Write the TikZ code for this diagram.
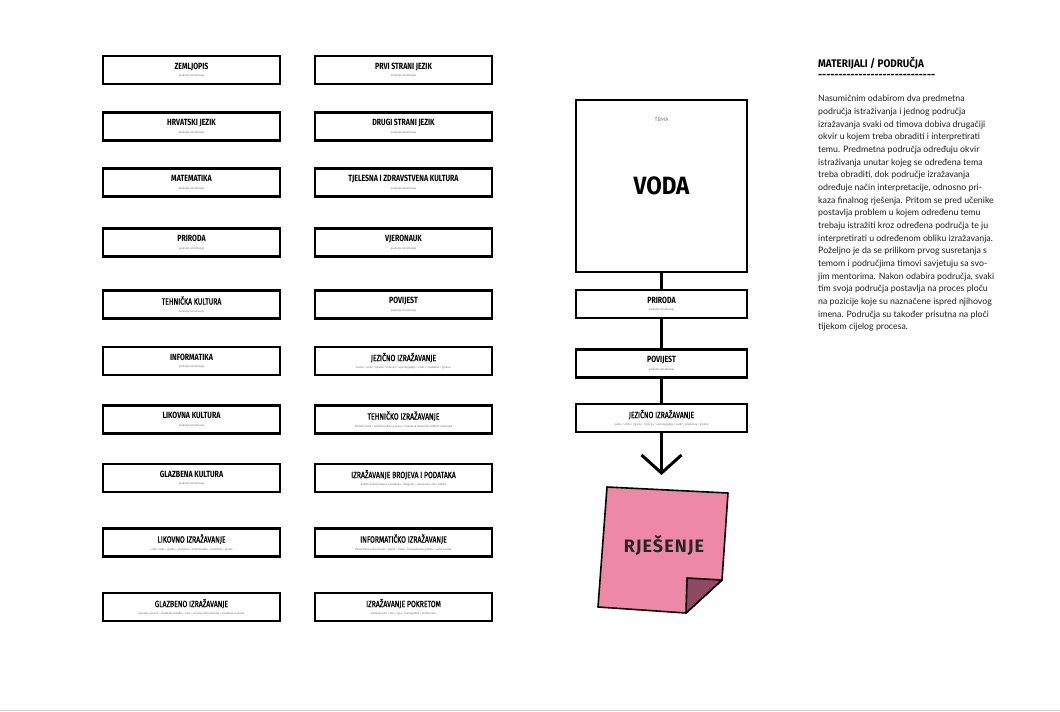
\documentclass[tikz,border=0pt]{standalone}
\usepackage{fontspec}
\usetikzlibrary{arrows.meta}
\newfontfamily\ttlfont[FakeStretch=0.78]{Fira Sans}
\newfontfamily\medfont[FakeStretch=0.76, FakeBold=1.2]{Fira Sans}
\newfontfamily\headfont[FakeStretch=0.9]{Fira Sans}
\newfontfamily\bigfont[FakeStretch=0.9]{Fira Sans}
\newfontfamily\notefont[LetterSpace=6]{Fira Sans}
\newfontfamily\bodyfont{Lato}
\definecolor{notepink}{RGB}{238,136,168}
\definecolor{notefold}{RGB}{142,74,100}
\definecolor{subgray}{RGB}{110,110,110}
\definecolor{bodyink}{RGB}{30,30,30}
\newcommand\bt[2]{{\ttlfont\bfseries\fontsize{9}{9}\selectfont #1}\\[-4.5pt]{\bodyfont\fontsize{2.8}{3}\selectfont\color{subgray}#2}}
\newcommand\rt[2]{{\medfont\fontsize{9}{9}\selectfont #1}\\[-4.5pt]{\bodyfont\fontsize{2.8}{3}\selectfont\color{subgray}#2}}
\newcommand\pist{područje istraživanja}
\begin{document}
\begin{tikzpicture}[x=1pt,y=-1pt,
  sbox/.style={draw, line width=2.6pt, minimum width=177pt, minimum height=28pt, inner sep=0pt, align=center, fill=white},
  link/.style={line width=3pt},
]
\useasboundingbox (0,0) rectangle (1060,712);
\fill[white] (0,0) rectangle (1060,712);
\draw[gray!40, line width=1pt] (0,710) -- (1060,710);
% left column
\node[sbox] (zem) at (191.5,70) {\bt{ZEMLJOPIS}{\pist}};
\node[sbox] (hrv) at (191.5,126.5) {\bt{HRVATSKI JEZIK}{\pist}};
\node[sbox] (mat) at (191.5,182.5) {\bt{MATEMATIKA}{\pist}};
\node[sbox] (pri) at (191.5,242.5) {\bt{PRIRODA}{\pist}};
\node[sbox] (teh) at (191.5,304.5) {\rt{TEHNIČKA KULTURA}{\pist}};
\node[sbox] (inf) at (191.5,361) {\bt{INFORMATIKA}{\pist}};
\node[sbox] (lik) at (191.5,419.5) {\bt{LIKOVNA KULTURA}{\pist}};
\node[sbox] (glk) at (191.5,478) {\bt{GLAZBENA KULTURA}{\pist}};
\node[sbox] (liz) at (191.5,542.5) {\rt{LIKOVNO IZRAŽAVANJE}{crtež / slika / grafika / skulptura / fotomontaža / ornament / plakat}};
\node[sbox] (giz) at (191.5,607) {\rt{GLAZBENO IZRAŽAVANJE}{pjevanje pjesme / izvođenje skladbe / ples / sviranje instrumenata / izvođenje zvukova}};
% middle column
\node[sbox] (prv) at (403.5,70) {\bt{PRVI STRANI JEZIK}{\pist}};
\node[sbox] (dru) at (403.5,126.5) {\bt{DRUGI STRANI JEZIK}{\pist}};
\node[sbox] (tje) at (403.5,182.5) {\bt{TJELESNA I ZDRAVSTVENA KULTURA}{\pist}};
\node[sbox] (vje) at (403.5,242.5) {\bt{VJERONAUK}{\pist}};
\node[sbox] (pov) at (403.5,304.5) {\bt{POVIJEST}{\pist}};
\node[sbox] (jez) at (403.5,361) {\rt{JEZIČNO IZRAŽAVANJE}{sastav / priča / pjesma / intervju / opis događaja / vodič / predstava / igrokaz}};
\node[sbox] (tiz) at (403.5,419.5) {\rt{TEHNIČKO IZRAŽAVANJE}{tehnički crtež / tehnički prikaz procesa / maketa ili model od različitih materijala}};
\node[sbox] (biz) at (403.5,478) {\rt{IZRAŽAVANJE BROJEVA I PODATAKA}{grafički prikaz brojeva i podataka / dijagram / vremenska crta / tablica}};
\node[sbox] (iiz) at (403.5,542.5) {\rt{INFORMATIČKO IZRAŽAVANJE}{PowerPoint prezentacija / plakat / video / kompjuterska grafika / audio snimak}};
\node[sbox] (pok) at (403.5,607) {\rt{IZRAŽAVANJE POKRETOM}{kretanje/ples / ples / igra / koreografija / performans}};
% right flow
\node[draw, line width=2.6pt, minimum width=171pt, minimum height=172pt, inner sep=0pt, fill=white] (tema) at (661.5,186) {};
\node[font={\bodyfont\fontsize{5}{5}\selectfont}, text=subgray] (temalbl) at (661.5,120) {TEMA};
\node[font={\bigfont\bfseries\fontsize{25}{25}\selectfont}] (voda) at (661.5,186) {VODA};
\node[sbox, minimum width=171pt] (pri2) at (661.5,304) {\bt{PRIRODA}{\pist}};
\node[sbox, minimum width=171pt] (pov2) at (661.5,363.5) {\bt{POVIJEST}{\pist}};
\node[sbox, minimum width=171pt] (jez2) at (661.5,418) {\rt{JEZIČNO IZRAŽAVANJE}{sastav / priča / pjesma / intervju / opis događaja / vodič / predstava / igrokaz}};
\coordinate (tip) at (661.5,475);
\draw[link] (tema.south) -- (pri2.north);
\draw[link] (pri2.south) -- (pov2.north);
\draw[link] (pov2.south) -- (jez2.north);
\draw[link, -{Straight Barb[length=18pt,width=40pt,line width=3pt]}] (jez2.south) -- (tip);
% sticky note
\draw[fill=notepink, line width=1.6pt, line join=round] (607,487) -- (728,493) -- (722,580) -- (686,613) -- (598,607) -- cycle;
\draw[fill=notefold, line width=1.6pt, line join=round] (687,578) -- (722,580) -- (686,613) -- cycle;
\node[font={\notefont\bfseries\fontsize{18}{18}\selectfont}, text=black!85] (rje) at (664,546) {RJEŠENJE};
% text column
\node[anchor=west, inner sep=0pt, font={\headfont\bfseries\fontsize{11}{11}\selectfont}] (head) at (818,63) {MATERIJALI / PODRUČJA};
\node[anchor=west, inner sep=0pt, font={\headfont\bfseries\fontsize{11}{11}\selectfont}] (dash) at (818,76) {\foreach \i in {1,...,29}{-\kern0pt}};
\node[anchor=north west, inner sep=0pt, align=left, text=bodyink, font={\bodyfont\fontsize{8.8}{12.67}\selectfont}] (body) at (818,95) {%
Nasumičnim odabirom dva predmetna\\
područja istraživanja i jednog područja\\
izražavanja svaki od timova dobiva drugačiji\\
okvir u kojem treba obraditi i interpretirati\\
temu. Predmetna područja određuju okvir\\
istraživanja unutar kojeg se određena tema\\
treba obraditi, dok područje izražavanja\\
određuje način interpretacije, odnosno pri-\\
kaza finalnog rješenja. Pritom se pred učenike\\
postavlja problem u kojem određenu temu\\
trebaju istražiti kroz određena područja te ju\\
interpretirati u određenom obliku izražavanja.\\
Poželjno je da se prilikom prvog susretanja s\\
temom i područjima timovi savjetuju sa svo-\\
jim mentorima. Nakon odabira područja, svaki\\
tim svoja područja postavlja na proces ploču\\
na pozicije koje su naznačene ispred njihovog\\
imena. Područja su također prisutna na ploči\\
tijekom cijelog procesa.};
\end{tikzpicture}
\end{document}
